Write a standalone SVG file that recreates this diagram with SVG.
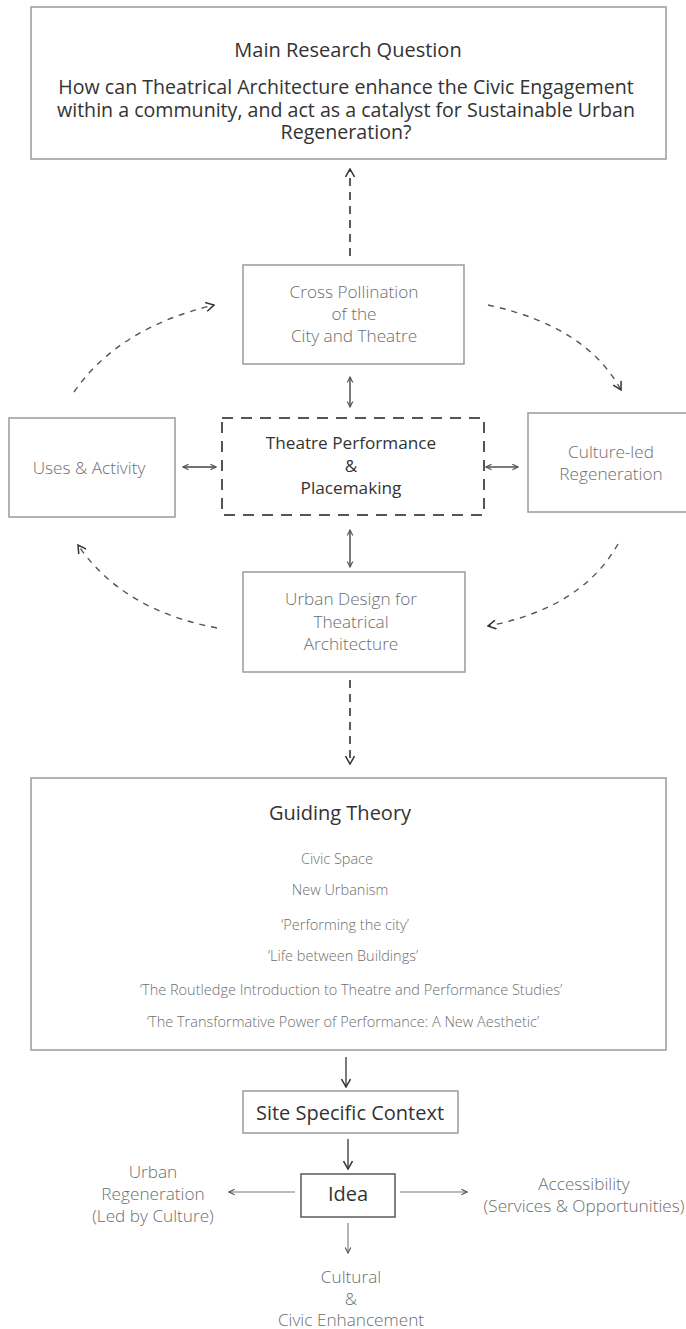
<svg xmlns="http://www.w3.org/2000/svg" width="686" height="1329" viewBox="0 0 686 1329">
  <defs>
    <style>
      .box { fill: #fff; stroke: #9a9a9a; stroke-width: 1.5; }
      .box-dark { fill: #fff; stroke: #5a5a5a; stroke-width: 1.5; }
      .box-dash { fill: #fff; stroke: #555; stroke-width: 2; stroke-dasharray: 11 8; }
      text { font-family: "Open Sans", "Liberation Sans", sans-serif; text-anchor: middle; }
      .t-dark { fill: #333; font-size: 20px; }
      .t-q { fill: #333; font-size: 19.6px; }
      .t-mid { fill: #333; font-size: 17.2px; }
      .t-grey { fill: #6e6e6e; font-size: 17.2px; font-weight: 300; }
      .t-small { fill: #6e6e6e; font-size: 14.5px; font-weight: 300; }
      .c-dash { fill: none; stroke: #333; stroke-width: 1.6; stroke-dasharray: 8 6; }
      .c-arc { fill: none; stroke: #555; stroke-width: 1.4; stroke-dasharray: 6 6; }
      .c-solid { fill: none; stroke: #444; stroke-width: 1.4; }
      .c-thin { fill: none; stroke: #777; stroke-width: 1.1; }
    </style>
    <marker id="head" viewBox="0 0 10 10" refX="9" refY="5" markerWidth="10" markerHeight="10" markerUnits="userSpaceOnUse" orient="auto-start-reverse">
      <path d="M1,0.5 L9,5 L1,9.5" fill="none" stroke="#333" stroke-width="1.5" stroke-dasharray="none"/>
    </marker>
    <marker id="head-s" viewBox="0 0 10 10" refX="9" refY="5" markerWidth="7" markerHeight="7" markerUnits="userSpaceOnUse" orient="auto-start-reverse">
      <path d="M1,1 L9,5 L1,9" fill="none" stroke="#555" stroke-width="1.6" stroke-dasharray="none"/>
    </marker>
  </defs>
  <rect width="686" height="1329" fill="#fff"/>

  <!-- connectors -->
  <g id="connectors">
    <path class="c-dash" d="M350,256 L350,169" marker-end="url(#head)"/>
    <path class="c-dash" d="M350,680 L350,764" marker-end="url(#head)"/>
    <path class="c-arc" d="M74,392 Q118,328 214,305" marker-end="url(#head)"/>
    <path class="c-arc" d="M488,305 Q586,326 621,390" marker-end="url(#head)"/>
    <path class="c-arc" d="M217,628 Q122,610 78,545" marker-end="url(#head)"/>
    <path class="c-arc" d="M618,544 Q582,608 488,626" marker-end="url(#head)"/>
    <path class="c-solid" d="M350,377 L350,407" marker-start="url(#head-s)" marker-end="url(#head-s)"/>
    <path class="c-solid" d="M350,530 L350,567" marker-start="url(#head-s)" marker-end="url(#head-s)"/>
    <path class="c-solid" d="M183,467 L216,467" marker-start="url(#head-s)" marker-end="url(#head-s)"/>
    <path class="c-solid" d="M486,467 L518,467" marker-start="url(#head-s)" marker-end="url(#head-s)"/>
    <path class="c-solid" d="M346,1057 L346,1087" marker-end="url(#head)"/>
    <path class="c-solid" d="M348,1139 L348,1169" marker-end="url(#head)"/>
    <path class="c-thin" d="M295,1192 L229,1192" marker-end="url(#head-s)"/>
    <path class="c-thin" d="M400,1192 L467,1192" marker-end="url(#head-s)"/>
    <path class="c-thin" d="M348,1223 L348,1253" marker-end="url(#head-s)"/>
  </g>

  <g id="main-question">
    <rect class="box" x="31" y="7" width="635" height="152"/>
    <text class="t-dark" x="348" y="57">Main Research Question</text>
    <text class="t-q" x="346" y="94">How can Theatrical Architecture enhance the Civic Engagement</text>
    <text class="t-q" x="346" y="117">within a community, and act as a catalyst for Sustainable Urban</text>
    <text class="t-q" x="346" y="139">Regeneration?</text>
  </g>

  <g id="cross-pollination">
    <rect class="box" x="243" y="265" width="221" height="99"/>
    <text class="t-grey" x="354" y="298">Cross Pollination</text>
    <text class="t-grey" x="354" y="320">of the</text>
    <text class="t-grey" x="354" y="342">City and Theatre</text>
  </g>

  <g id="uses-activity">
    <rect class="box" x="9" y="418" width="166" height="99"/>
    <text class="t-grey" x="89" y="474">Uses &amp; Activity</text>
  </g>

  <g id="theatre-placemaking">
    <rect class="box-dash" x="222" y="418" width="262" height="97"/>
    <text class="t-mid" x="351" y="449">Theatre Performance</text>
    <text class="t-mid" x="351" y="472">&amp;</text>
    <text class="t-mid" x="351" y="494">Placemaking</text>
  </g>

  <g id="culture-led">
    <rect class="box" x="528" y="413" width="162" height="99"/>
    <text class="t-grey" x="611" y="458">Culture-led</text>
    <text class="t-grey" x="611" y="480">Regeneration</text>
  </g>

  <g id="urban-design">
    <rect class="box" x="243" y="572" width="222" height="100"/>
    <text class="t-grey" x="351" y="605">Urban Design for</text>
    <text class="t-grey" x="351" y="628">Theatrical</text>
    <text class="t-grey" x="351" y="650">Architecture</text>
  </g>

  <g id="guiding-theory">
    <rect class="box" x="31" y="778" width="635" height="272"/>
    <text class="t-dark" x="340" y="820">Guiding Theory</text>
    <text class="t-small" x="337" y="864">Civic Space</text>
    <text class="t-small" x="340" y="895">New Urbanism</text>
    <text class="t-small" x="345" y="930">‘Performing the city’</text>
    <text class="t-small" x="343" y="961">‘Life between Buildings’</text>
    <text class="t-small" x="351" y="995">‘The Routledge Introduction to Theatre and Performance Studies’</text>
    <text class="t-small" x="343" y="1027">‘The Transformative Power of Performance: A New Aesthetic’</text>
  </g>

  <g id="site-context">
    <rect class="box" x="243" y="1091" width="215" height="42"/>
    <text class="t-dark" x="350" y="1120">Site Specific Context</text>
  </g>

  <g id="idea">
    <rect class="box-dark" x="301" y="1174" width="94" height="43"/>
    <text class="t-dark" x="348" y="1201">Idea</text>
  </g>

  <g id="urban-regeneration">
    <text class="t-grey" x="153" y="1178">Urban</text>
    <text class="t-grey" x="153" y="1200">Regeneration</text>
    <text class="t-grey" x="153" y="1222">(Led by Culture)</text>
  </g>

  <g id="accessibility">
    <text class="t-grey" x="584" y="1190">Accessibility</text>
    <text class="t-grey" x="584" y="1212">(Services &amp; Opportunities)</text>
  </g>

  <g id="cultural-civic">
    <text class="t-grey" x="351" y="1283">Cultural</text>
    <text class="t-grey" x="351" y="1305">&amp;</text>
    <text class="t-grey" x="351" y="1326">Civic Enhancement</text>
  </g>
</svg>
